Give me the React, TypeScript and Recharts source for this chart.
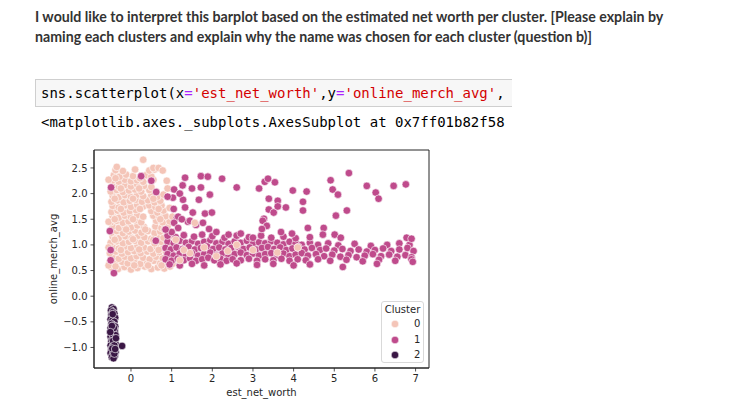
import React from 'react';
import { ScatterChart, Scatter, XAxis, YAxis, CartesianGrid } from 'recharts';

const xTicks = [0, 1, 2, 3, 4, 5, 6, 7];
const yTicks = [-1, -0.5, 0, 0.5, 1, 1.5, 2, 2.5];
const clusterLabels = ['0', '1', '2'];
const clusterColors = ['#f4c5b8', '#bf4b8c', '#3a1745'];

const cluster0: number[][] = [
  [-0.48,0.56],[-0.32,0.53],[-0.16,0.57],[0.0,0.52],[0.16,0.55],[0.34,0.58],[0.5,0.53],[0.66,0.56],[0.82,0.54],[0.96,0.58],
  [-0.52,0.66],[-0.38,0.63],[-0.22,0.67],[-0.08,0.64],[0.08,0.68],[0.23,0.63],[0.4,0.66],[0.56,0.69],[0.72,0.64],[0.88,0.67],[1.02,0.63],
  [-0.45,0.76],[-0.3,0.73],[-0.15,0.77],[0.0,0.74],[0.14,0.78],[0.3,0.75],[0.46,0.72],[0.62,0.77],[0.78,0.74],[0.93,0.78],[1.08,0.75],
  [-0.52,0.84],[-0.37,0.87],[-0.22,0.83],[-0.07,0.86],[0.08,0.88],[0.24,0.84],[0.4,0.87],[0.55,0.83],[0.7,0.86],[0.85,0.88],[1.0,0.84],
  [-0.45,0.96],[-0.3,0.93],[-0.15,0.97],[0.0,0.94],[0.16,0.98],[0.32,0.95],[0.48,0.92],[0.63,0.97],[0.78,0.94],[0.92,0.97],
  [-0.5,1.04],[-0.35,1.07],[-0.2,1.03],[-0.05,1.06],[0.1,1.08],[0.25,1.04],[0.42,1.07],[0.58,1.03],[0.74,1.06],[0.88,1.08],[1.0,1.03],
  [-0.45,1.16],[-0.3,1.13],[-0.14,1.17],[0.02,1.14],[0.18,1.18],[0.33,1.15],[0.5,1.12],[0.66,1.17],[0.8,1.14],[0.95,1.17],
  [-0.48,1.24],[-0.35,1.27],[-0.2,1.23],[-0.05,1.26],[0.1,1.28],[0.26,1.24],[0.42,1.27],[0.58,1.23],[0.72,1.26],[0.88,1.24],
  [-0.45,1.36],[-0.3,1.33],[-0.15,1.37],[0.0,1.34],[0.16,1.38],[0.32,1.35],[0.6,1.36],[0.75,1.33],[0.9,1.37],
  [-0.5,1.44],[-0.35,1.47],[-0.2,1.43],[-0.06,1.46],[0.1,1.48],[0.25,1.44],[0.62,1.47],[0.78,1.44],[0.95,1.46],
  [-0.45,1.56],[-0.3,1.53],[-0.15,1.57],[0.0,1.54],[0.15,1.58],[0.3,1.55],[0.55,1.57],[0.7,1.54],[0.85,1.56],
  [-0.48,1.64],[-0.33,1.67],[-0.18,1.63],[-0.03,1.66],[0.12,1.68],[0.5,1.66],[0.65,1.63],[0.8,1.67],
  [-0.45,1.76],[-0.3,1.73],[-0.15,1.77],[0.0,1.74],[0.15,1.78],[0.3,1.75],[0.45,1.77],[0.6,1.74],[0.75,1.77],
  [-0.48,1.84],[-0.33,1.87],[-0.18,1.83],[-0.03,1.86],[0.12,1.88],[0.27,1.84],[0.42,1.87],[0.58,1.83],[0.72,1.86],
  [-0.45,1.96],[-0.3,1.93],[-0.15,1.97],[0.0,1.94],[0.15,1.98],[0.3,1.95],[0.5,1.97],[0.65,1.94],[0.8,1.98],
  [-0.5,2.04],[-0.35,2.07],[-0.2,2.03],[-0.05,2.06],[0.1,2.08],[0.25,2.04],[0.45,2.07],[0.62,2.04],
  [-0.45,2.16],[-0.3,2.13],[-0.15,2.17],[0.0,2.14],[0.15,2.18],[0.32,2.15],[0.5,2.13],
  [-0.45,2.26],[-0.3,2.23],[-0.15,2.27],[0.0,2.24],[0.15,2.26],[0.3,2.23],[0.55,2.27],
  [-0.42,2.36],[-0.28,2.33],[-0.12,2.37],[0.05,2.34],[0.38,2.36],[0.5,2.33],
  [-0.38,2.46],[-0.2,2.44],[0.1,2.47],[0.45,2.45],[0.58,2.47],
  [-0.35,2.52],[0.3,2.66],[0.55,2.5],[0.68,2.5],[0.78,2.45],[-0.55,2.27],[-0.55,1.45],[0.9,2.1],[0.95,1.72],[1.02,1.55],[0.88,2.25],[-0.55,0.95],[-0.55,0.6],
  [-0.38,0.58],[0.08,0.6],[0.42,0.6],[0.75,0.6],[-0.25,0.9],[0.2,0.91],[0.68,0.9],[-0.4,1.1],[0.05,1.11],[0.55,1.1],[-0.12,1.3],[0.35,1.3],[0.82,1.3],
  [-0.4,1.5],[0.05,1.5],[0.72,1.5],[-0.25,1.7],[0.22,1.7],[0.68,1.7],[-0.4,1.9],[0.05,1.9],[0.55,1.9],[-0.25,2.1],[0.2,2.1],[-0.38,2.3],[0.22,2.3],
];

const cluster0Stray: number[][] = [
  [1.45,0.84],[2.38,0.88],[1.57,1.43],[1.2,0.7],[1.8,0.95],[2.1,0.78],[3.0,0.9],[1.1,1.1],[2.6,1.0],[3.6,0.85],[4.1,0.95],[1.3,0.9],
];

const cluster1: number[][] = [
  [0.9,1.06],[1.05,1.03],[1.2,1.08],[1.35,1.04],[1.5,1.07],[1.65,1.02],[1.8,1.06],[1.95,1.09],[2.1,1.03],[2.25,1.06],[2.4,1.02],[2.55,1.07],[2.7,1.04],[2.85,1.08],[3.0,1.02],[3.15,1.05],[3.3,1.03],[3.45,1.07],[3.6,1.04],[3.75,1.01],[3.9,1.06],[4.05,1.03],[4.2,1.0],[4.4,1.04],[4.6,1.0],[4.85,1.03],[5.1,0.99],[5.5,1.02],[5.9,0.98],[6.3,1.0],[6.6,1.03],[6.85,1.0],
  [0.85,0.94],[0.98,0.91],[1.12,0.95],[1.27,0.92],[1.42,0.96],[1.57,0.91],[1.72,0.94],[1.87,0.97],[2.02,0.92],[2.17,0.95],[2.32,0.91],[2.47,0.94],[2.62,0.97],[2.77,0.92],[2.92,0.95],[3.07,0.91],[3.22,0.94],[3.37,0.96],[3.52,0.92],[3.67,0.95],[3.82,0.9],[3.97,0.93],[4.12,0.96],[4.27,0.91],[4.45,0.94],[4.65,0.9],[4.8,0.93],[5.0,0.89],[5.2,0.92],[5.4,0.88],[5.6,0.91],[5.8,0.87],[6.0,0.9],[6.2,0.93],[6.4,0.88],[6.6,0.91],[6.8,0.94],[6.95,0.88],
  [0.9,0.82],[1.05,0.79],[1.2,0.83],[1.35,0.8],[1.5,0.84],[1.65,0.79],[1.8,0.82],[1.95,0.85],[2.1,0.8],[2.25,0.83],[2.4,0.79],[2.55,0.82],[2.7,0.85],[2.85,0.8],[3.0,0.83],[3.15,0.79],[3.3,0.82],[3.45,0.84],[3.6,0.8],[3.75,0.83],[3.9,0.78],[4.05,0.81],[4.2,0.84],[4.35,0.79],[4.55,0.82],[4.75,0.78],[4.95,0.81],[5.15,0.77],[5.35,0.8],[5.55,0.76],[5.75,0.79],[5.95,0.82],[6.15,0.78],[6.35,0.81],[6.55,0.77],[6.75,0.8],[6.9,0.76],
  [0.85,0.72],[1.0,0.69],[1.15,0.73],[1.3,0.7],[1.45,0.74],[1.6,0.69],[1.75,0.72],[1.9,0.75],[2.05,0.7],[2.2,0.73],[2.35,0.69],[2.5,0.72],[2.7,0.7],[2.9,0.73],[3.1,0.69],[3.3,0.72],[3.5,0.7],[3.7,0.73],[3.9,0.69],[4.1,0.72],[4.3,0.7],[4.6,0.72],[4.9,0.69],[5.3,0.71],[5.7,0.68],[6.1,0.71],[6.5,0.69],[6.9,0.72],
  [0.9,1.18],[1.1,1.15],[1.3,1.19],[1.55,1.16],[1.75,1.2],[2.0,1.17],[2.3,1.14],[2.6,1.18],[2.9,1.15],[3.2,1.18],[3.45,1.14],[3.75,1.16],[4.05,1.13],[4.4,1.15],
  [0.95,0.62],[1.2,0.6],[1.5,0.63],[1.8,0.6],[2.2,0.62],[2.6,0.64],[3.1,0.61],[3.5,0.63],[4.0,0.6],[4.4,0.62],[5.21,0.57],[6.05,0.63],[6.93,0.67],
  [0.25,2.34],[-0.49,2.12],[1.33,2.31],[1.72,2.34],[1.89,2.33],[2.24,2.29],[2.6,2.12],[1.06,2.08],[1.27,2.16],[1.5,2.1],[1.72,2.12],[1.94,1.98],[1.28,1.88],[1.03,1.92],[1.67,1.88],[1.33,1.73],[1.52,1.63],[1.82,1.61],[1.99,1.63],[1.13,1.53],[1.06,1.43],[1.4,1.45],[1.16,1.33],[1.6,1.39],[-0.52,1.27],[0.61,1.08],[-0.42,0.45],
  [3.15,2.1],[3.29,2.23],[3.37,2.29],[3.54,2.22],[3.98,2.06],[4.32,2.04],[4.91,2.26],[5.36,2.4],[5.8,2.15],[6.46,2.15],[6.76,2.18],[4.96,2.08],[5.09,1.98],[6.02,2.02],[6.09,1.9],[3.39,1.9],[3.61,1.86],[3.39,1.69],[3.51,1.63],[3.61,1.75],[3.81,1.73],[4.23,1.84],[4.23,1.67],[5.31,1.67],[5.04,1.57],[3.27,1.51],[3.24,1.47],[3.34,1.37],[3.22,1.31],[4.35,1.33],[4.74,1.33],[3.69,1.25],[3.96,1.22],[4.72,1.2],[5.01,1.2],[5.16,1.14],[6.78,1.14],[6.9,1.12],[3.0,1.14],
  [1.16,1.55],[1.25,1.5],[1.45,1.47],[1.77,1.43],[1.92,1.31],[2.1,1.25],[2.4,1.2],[2.7,1.22],[1.0,1.25],[1.05,1.7],[1.2,2.0],[-0.5,0.9],[-0.5,0.7],[0.5,2.25],[0.85,1.3],[0.62,2.03],[0.9,1.94],
];

const cluster2: number[][] = [
  [-0.47,-0.22],[-0.43,-0.25],[-0.49,-0.28],[-0.45,-0.31],[-0.41,-0.34],[-0.48,-0.36],[-0.44,-0.4],[-0.39,-0.42],[-0.5,-0.45],[-0.46,-0.48],[-0.41,-0.5],[-0.48,-0.54],[-0.43,-0.57],[-0.39,-0.59],[-0.5,-0.62],[-0.45,-0.65],[-0.4,-0.68],[-0.48,-0.71],[-0.43,-0.74],[-0.38,-0.76],[-0.5,-0.79],[-0.45,-0.82],[-0.4,-0.85],[-0.48,-0.88],[-0.43,-0.91],[-0.38,-0.93],[-0.5,-0.96],[-0.45,-0.98],[-0.4,-1.01],[-0.48,-1.04],[-0.43,-1.07],[-0.38,-1.09],[-0.5,-1.11],[-0.45,-1.14],[-0.4,-1.16],[-0.47,-1.19],[-0.43,-1.21],[-0.22,-0.97],
  [-0.45,-0.35],[-0.42,-0.62],[-0.47,-0.58],[-0.44,-0.87],[-0.41,-0.96],[-0.46,-1.02],[-0.41,-1.12],[-0.51,-0.7],[-0.37,-0.82],[-0.39,-1.03],
];

const toRows = (pts: number[][]) => pts.map(([x, y]) => ({ x, y }));

const makeDot = (color: string) => (props: any) => (
  <circle cx={props.cx} cy={props.cy} r={3.8} fill={color} stroke="#ffffff" strokeWidth={0.6} />
);

const fmtY = (v: number) => (v < 0 ? '\u2212' + Math.abs(v).toFixed(1) : v.toFixed(1));

const tickStyle = { fontFamily: 'DejaVu Sans', fontSize: 10, fill: '#262626' };

const frameH = (p: any) => [p.offset.top, p.offset.top + p.offset.height];
const frameV = (p: any) => [p.offset.left, p.offset.left + p.offset.width];

export default function App() {
  return (
    <div style={{ position: 'absolute', left: 0, top: 0, width: 729, height: 403, background: '#fff', overflow: 'hidden' }}>
      <div style={{ position: 'absolute', left: 35, top: 7, width: 660, fontFamily: 'Lato', fontWeight: 700, fontSize: 14.2, lineHeight: '20px', color: '#333' }}>
        I would like to interpret this barplot based on the estimated net worth per cluster. [Please explain by naming each clusters and explain why the name was chosen for each cluster (question b)]
      </div>
      <div style={{ position: 'absolute', left: 35, top: 79, width: 471, height: 26, background: '#f7f7f7', border: '1px solid #cfcfcf', borderRight: 'none', overflow: 'hidden', whiteSpace: 'pre', fontFamily: 'DejaVu Sans Mono', fontSize: 14, lineHeight: '26px', paddingLeft: 5, color: '#000' }}>
        sns.scatterplot(x<span style={{ color: '#aa22ff' }}>=</span><span style={{ color: '#d40000' }}>'est_net_worth'</span>,y<span style={{ color: '#aa22ff' }}>=</span><span style={{ color: '#d40000' }}>'online_merch_avg'</span>,
      </div>
      <div style={{ position: 'absolute', left: 41, top: 114, width: 465, overflow: 'hidden', whiteSpace: 'pre', fontFamily: 'DejaVu Sans Mono', fontSize: 14, lineHeight: '17px', color: '#000' }}>
        {'<matplotlib.axes._subplots.AxesSubplot at 0x7ff01b82f58'}
      </div>
      <div style={{ position: 'absolute', left: 0, top: 0 }}>
        <ScatterChart width={729} height={403} margin={{ top: 150, right: 300, bottom: 5, left: 34 }}>
          <CartesianGrid
            stroke="#262626"
            strokeWidth={1}
            strokeDasharray="0"
            fill="none"
            horizontalCoordinatesGenerator={frameH}
            verticalCoordinatesGenerator={frameV}
          />
          <XAxis
            dataKey="x"
            type="number"
            domain={[-0.91, 7.33]}
            ticks={xTicks}
            allowDataOverflow
            height={30}
            tick={tickStyle}
            tickSize={3.5}
            tickMargin={3}
            tickLine={{ stroke: '#262626', strokeWidth: 0.8 }}
            axisLine={{ stroke: '#262626', strokeWidth: 1 }}
            label={{ value: 'est_net_worth', position: 'insideBottom', offset: 2, style: { fontFamily: 'DejaVu Sans', fontSize: 10, fill: '#262626' } }}
          />
          <YAxis
            dataKey="y"
            type="number"
            domain={[-1.4, 2.85]}
            ticks={yTicks}
            allowDataOverflow
            width={60}
            tickFormatter={fmtY}
            tick={tickStyle}
            tickSize={3.5}
            tickMargin={3}
            tickLine={{ stroke: '#262626', strokeWidth: 0.8 }}
            axisLine={{ stroke: '#262626', strokeWidth: 1 }}
            label={{ value: 'online_merch_avg', angle: -90, position: 'insideLeft', offset: 19, style: { textAnchor: 'middle', fontFamily: 'DejaVu Sans', fontSize: 10, fill: '#262626' } }}
          />
          <Scatter name="0" data={toRows(cluster0)} shape={makeDot(clusterColors[0])} isAnimationActive={false} />
          <Scatter name="1" data={toRows(cluster1)} shape={makeDot(clusterColors[1])} isAnimationActive={false} />
          <Scatter name="0b" data={toRows(cluster0Stray)} shape={makeDot(clusterColors[0])} isAnimationActive={false} />
          <Scatter name="2" data={toRows(cluster2)} shape={makeDot(clusterColors[2])} isAnimationActive={false} />
        </ScatterChart>
      </div>
      <div style={{ position: 'absolute', left: 381, top: 301, width: 41, height: 60, border: '1px solid #d9d9d9', borderRadius: 3, background: 'rgba(255,255,255,0.8)', fontFamily: 'DejaVu Sans', fontSize: 10, color: '#262626' }}>
        <div style={{ position: 'absolute', left: 0, width: 41, top: 2, textAlign: 'center', lineHeight: '12px' }}>Cluster</div>
        {clusterLabels.map((lab, i) => (
          <div key={lab} style={{ position: 'absolute', left: 0, top: 16 + i * 15.5, width: 41, height: 12 }}>
            <svg width={20} height={12} style={{ position: 'absolute', left: 6, top: 0 }}>
              <circle cx={7} cy={6} r={3.8} fill={clusterColors[i]} stroke="#fff" strokeWidth={0.6} />
            </svg>
            <div style={{ position: 'absolute', left: 32, top: 0, lineHeight: '12px' }}>{lab}</div>
          </div>
        ))}
      </div>
    </div>
  );
}
